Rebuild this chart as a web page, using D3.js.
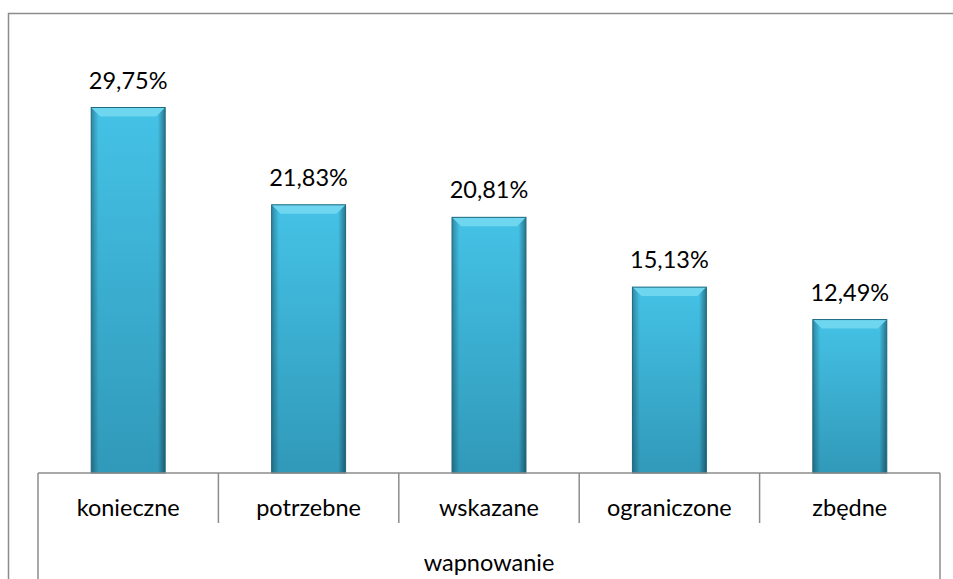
<!DOCTYPE html>
<html>
<head>
<meta charset="utf-8">
<script src="https://cdn.jsdelivr.net/npm/d3@7"></script>
<style>
  body { margin: 0; background: #fff; }
  text { font-family: Lato, "Open Sans", sans-serif; fill: #000; }
</style>
</head>
<body>
<svg id="chart" width="953" height="579"></svg>
<script>
// chart data
const categories = ['konieczne', 'potrzebne', 'wskazane', 'ograniczone', 'zbędne'];
const values = [29.75, 21.83, 20.81, 15.13, 12.49];
const groupLabel = 'wapnowanie';

const svg = d3.select('#chart');
const W = 953, H = 579;
const axLeft = 38, axRight = 940, base = 473, plotTop = 43;
const fs = '23.5px';

// outer frame (left + top only visible)
svg.append('path')
  .attr('d', `M8.5,${H} V13.5 H${W}`)
  .attr('fill', 'none').attr('stroke', '#8c8c8c').attr('stroke-width', 1.5);

const x = d3.scaleBand().domain(categories).range([axLeft, axRight]);
const y = d3.scaleLinear().domain([0, 35]).range([base, plotTop]);
const barW = x.bandwidth() * 0.41;

const defs = svg.append('defs');
const gFace = defs.append('linearGradient').attr('id', 'face')
  .attr('x1', 0).attr('y1', 0).attr('x2', 0).attr('y2', 1);
gFace.append('stop').attr('offset', '0%').attr('stop-color', '#44c2e6');
gFace.append('stop').attr('offset', '100%').attr('stop-color', '#3199b9');
const gSide = defs.append('linearGradient').attr('id', 'side')
  .attr('x1', 0).attr('y1', 0).attr('x2', 1).attr('y2', 0);
gSide.append('stop').attr('offset', '0%').attr('stop-color', '#000').attr('stop-opacity', 0.3);
gSide.append('stop').attr('offset', '10%').attr('stop-color', '#000').attr('stop-opacity', 0);
gSide.append('stop').attr('offset', '90%').attr('stop-color', '#000').attr('stop-opacity', 0);
gSide.append('stop').attr('offset', '100%').attr('stop-color', '#000').attr('stop-opacity', 0.4);

const bars = svg.selectAll('g.bar')
  .data(categories.map((c, i) => ({ c: c, v: values[i] })))
  .enter().append('g').attr('class', 'bar');

const bx = d => x(d.c) + (x.bandwidth() - barW) / 2;
const b = 9; // bevel size

bars.append('rect')
  .attr('x', bx).attr('y', d => y(d.v))
  .attr('width', barW).attr('height', d => base - y(d.v))
  .attr('fill', 'url(#face)');
bars.append('rect')
  .attr('x', bx).attr('y', d => y(d.v))
  .attr('width', barW).attr('height', d => base - y(d.v))
  .attr('fill', 'url(#side)');
// top bevel
bars.append('path')
  .attr('d', d => {
    const x0 = bx(d), y0 = y(d.v);
    return `M${x0},${y0} H${x0 + barW} L${x0 + barW - b},${y0 + b} H${x0 + b} Z`;
  })
  .attr('fill', '#6fd6f0');
bars.append('rect')
  .attr('x', bx).attr('y', d => y(d.v))
  .attr('width', barW).attr('height', d => base - y(d.v))
  .attr('fill', 'none').attr('stroke', '#1d6a80').attr('stroke-width', 1);

// value labels
bars.append('text')
  .attr('x', d => x(d.c) + x.bandwidth() / 2)
  .attr('y', d => y(d.v) - 19)
  .attr('text-anchor', 'middle')
  .style('font-size', fs)
  .text(d => d.v.toFixed(2).replace('.', ',') + '%');

// category axis
const ax = svg.append('g').attr('stroke', '#8c8c8c').attr('stroke-width', 1.5);
ax.append('line').attr('x1', axLeft).attr('x2', axRight).attr('y1', base).attr('y2', base);
const ticks = categories.map(c => x(c)).concat([axRight]);
ax.selectAll('line.tick').data(ticks).enter().append('line')
  .attr('x1', d => d).attr('x2', d => d)
  .attr('y1', base)
  .attr('y2', (d, i) => (i === 0 || i === ticks.length - 1) ? H : 523);

svg.selectAll('text.cat').data(categories).enter().append('text')
  .attr('class', 'cat')
  .attr('x', d => x(d) + x.bandwidth() / 2)
  .attr('y', 516)
  .attr('text-anchor', 'middle')
  .style('font-size', fs)
  .text(d => d);

svg.append('text')
  .attr('x', (axLeft + axRight) / 2).attr('y', 571)
  .attr('text-anchor', 'middle')
  .style('font-size', fs)
  .text(groupLabel);
</script>
</body>
</html>
